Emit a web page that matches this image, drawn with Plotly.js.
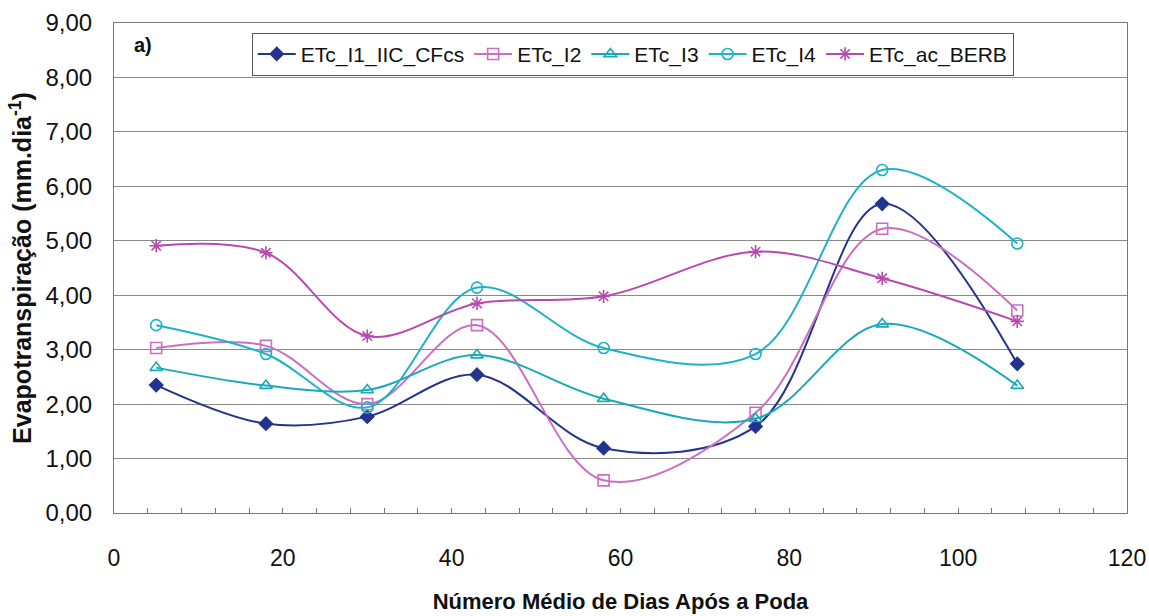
<!DOCTYPE html>
<html><head><meta charset="utf-8">
<script src="https://cdn.plot.ly/plotly-3.0.1.min.js"></script>
<style>html,body{margin:0;padding:0;background:#fff}#chart{width:1149px;height:616px}</style>
</head><body><div id="chart"></div>
<script>
const dias = [5, 18, 30, 43, 58, 76, 91, 107];
const etc_I1 = [2.35, 1.64, 1.77, 2.54, 1.19, 1.59, 5.68, 2.74];
const etc_I2 = [3.03, 3.07, 2.00, 3.45, 0.60, 1.84, 5.22, 3.72];
const etc_I3 = [2.67, 2.34, 2.26, 2.90, 2.10, 1.73, 3.47, 2.34];
const etc_I4 = [3.45, 2.92, 1.94, 4.14, 3.03, 2.92, 6.30, 4.95];
const etc_BERB = [4.91, 4.78, 3.25, 3.85, 3.98, 4.80, 4.31, 3.52];
const names = ['ETc_I1_IIC_CFcs', 'ETc_I2', 'ETc_I3', 'ETc_I4', 'ETc_ac_BERB'];

function tr(y, name, color, symbol, size){
  return {x: dias, y: y, name: name, type: 'scatter', mode: 'lines+markers',
    line: {color: color, width: 2, shape: 'spline', smoothing: 1},
    marker: {symbol: symbol, size: size, color: color, line: {color: color, width: 1.6}}};
}
const data = [
  tr(etc_I1, names[0], '#23348f', 'diamond', 10),
  tr(etc_I2, names[1], '#cc6fc2', 'square-open', 11),
  tr(etc_I3, names[2], '#19aab6', 'triangle-up-open', 11),
  tr(etc_I4, names[3], '#1db3c6', 'circle-open', 11),
  tr(etc_BERB, names[4], '#b84aae', 'asterisk-open', 11)
];
const font = {family: 'Liberation Sans, Arial, sans-serif', color: '#111'};
const layout = {
  width: 1149, height: 616,
  margin: {l: 114, r: 22, t: 23, b: 103},
  paper_bgcolor: '#fff', plot_bgcolor: '#fff',
  separators: ',.',
  font: Object.assign({size: 22}, font),
  showlegend: true,
  legend: {orientation: 'h', x: 0.136, y: 0.98, xanchor: 'left', yanchor: 'top',
    bgcolor: '#fff', bordercolor: '#555', borderwidth: 1,
    font: Object.assign({size: 21}, font), itemwidth: 38, traceorder: 'normal'},
  xaxis: {range: [0, 120], dtick: 20, tick0: 0, showgrid: false, zeroline: false,
    showline: true, linecolor: '#777', linewidth: 1, mirror: true,
    ticks: 'inside', ticklen: 5, tickcolor: '#777', ticklabelstandoff: 24,
    minor: {dtick: 4, ticks: 'inside', ticklen: 5, tickcolor: '#777'},
    tickfont: Object.assign({size: 23}, font),
    title: {text: '<b>Número Médio de Dias Após a Poda</b>', standoff: 24,
      font: Object.assign({size: 22}, font)}},
  yaxis: {range: [0, 9], dtick: 1, tickformat: '.2f', showgrid: true,
    gridcolor: '#8a8a8a', gridwidth: 1, zeroline: false,
    showline: true, linecolor: '#777', linewidth: 1, mirror: true,
    ticks: '', ticklabelstandoff: 16,
    tickfont: Object.assign({size: 24}, font),
    title: {text: '<b>Evapotranspiração (mm.dia<sup>-1</sup>)</b>', standoff: 6,
      font: Object.assign({size: 25}, font)}},
  annotations: [{xref: 'paper', yref: 'paper', x: 0.018, y: 0.955, xanchor: 'left', yanchor: 'middle',
    text: '<b>a)</b>', showarrow: false, font: Object.assign({size: 20}, font)}]
};
Plotly.newPlot('chart', data, layout, {displayModeBar: false, staticPlot: true});
</script></body></html>
